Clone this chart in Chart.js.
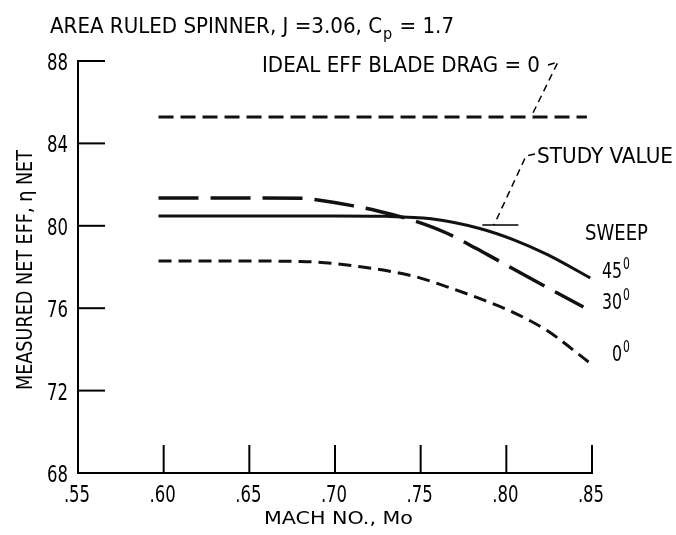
<!DOCTYPE html>
<html>
<head>
  <title>Net efficiency vs Mach number</title>
  <style>
    body { margin: 0; background: #fff; }
    #wrap { width: 676px; height: 535px; }
  </style>
</head>
<body>
  <div id="wrap"><canvas id="chart" width="676" height="535"></canvas></div>

  <script src="https://cdn.jsdelivr.net/npm/chart.js"></script>
  <script>
    // axis ticks
    const machTicks = [0.55, 0.60, 0.65, 0.70, 0.75, 0.80, 0.85];
    const machLabels = ['.55', '.60', '.65', '.70', '.75', '.80', '.85'];
    const effTicks = [68, 72, 76, 80, 84, 88];

    // ideal eff, blade drag = 0
    const idealMach = [0.597, 0.847];
    const idealEff = [85.28, 85.28];

    // sweep 45 deg (solid)
    const sweep45Mach = [0.597, 0.65, 0.70, 0.73, 0.756, 0.785, 0.804, 0.824, 0.849];
    const sweep45Eff = [80.48, 80.48, 80.48, 80.46, 80.34, 79.86, 79.33, 78.6, 77.47];

    // sweep 30 deg (long dash)
    const sweep30Mach = [0.597, 0.64, 0.681, 0.69, 0.71, 0.725, 0.746, 0.765, 0.789, 0.814, 0.845];
    const sweep30Eff = [81.35, 81.35, 81.34, 81.25, 80.98, 80.72, 80.25, 79.65, 78.6, 77.45, 76.06];

    // sweep 0 deg (short dash)
    const sweep0Mach = [0.597, 0.64, 0.680, 0.716, 0.746, 0.765, 0.785, 0.804, 0.824, 0.848];
    const sweep0Eff = [78.29, 78.29, 78.27, 78.0, 77.55, 77.05, 76.45, 75.8, 74.9, 73.39];

    const FONT = "'DejaVu Sans Condensed', 'DejaVu Sans', sans-serif";

    function pts(xs, ys) {
      return xs.map((x, i) => ({ x: x, y: ys[i] }));
    }

    function line(label, xs, ys, dash, width) {
      return {
        label: label,
        data: pts(xs, ys),
        borderColor: '#111',
        borderWidth: width,
        borderDash: dash,
        pointRadius: 0,
        fill: false,
        cubicInterpolationMode: 'monotone'
      };
    }

    // squeezed text helpers (the original lettering is very condensed)
    function txt(ctx, s, x, y, size, sx, align) {
      ctx.save();
      ctx.font = size + 'px ' + FONT;
      ctx.translate(x, y);
      ctx.scale(sx, 1);
      ctx.textAlign = align || 'left';
      ctx.fillText(s, 0, 0);
      ctx.restore();
    }
    function fit(ctx, s, left, right, y, size) {
      ctx.font = size + 'px ' + FONT;
      const sx = (right - left) / ctx.measureText(s).width;
      txt(ctx, s, left, y, size, sx, 'left');
      return sx;
    }

    const extras = {
      id: 'extras',
      afterDraw(chart) {
        const ctx = chart.ctx;
        const xs = chart.scales.x, ys = chart.scales.y;
        const area = chart.chartArea;
        ctx.save();
        ctx.strokeStyle = '#000';
        ctx.fillStyle = '#000';
        ctx.textBaseline = 'alphabetic';

        // inward tick marks
        ctx.lineWidth = 2;
        effTicks.forEach(v => {
          if (v === effTicks[0]) return;
          const py = ys.getPixelForValue(v);
          ctx.beginPath(); ctx.moveTo(area.left, py); ctx.lineTo(area.left + 27, py); ctx.stroke();
        });
        machTicks.forEach(v => {
          if (v === machTicks[0]) return;
          const px = xs.getPixelForValue(v);
          ctx.beginPath(); ctx.moveTo(px, area.bottom); ctx.lineTo(px, area.bottom - 28); ctx.stroke();
        });

        // tick labels
        ctx.font = '23px ' + FONT;
        const sxNum = 21 / ctx.measureText('88').width;
        effTicks.forEach(v => {
          const py = ys.getPixelForValue(v);
          txt(ctx, String(v), area.left - 10, py + 9, 23, sxNum, 'right');
        });
        machTicks.forEach((v, i) => {
          const px = xs.getPixelForValue(v);
          txt(ctx, machLabels[i], px - 1, area.bottom + 29, 23, sxNum, 'center');
        });

        // ideal annotation (its squeeze is reused for the other lettering)
        const sxL = fit(ctx, 'IDEAL EFF BLADE DRAG = 0', 262, 540, 72, 22);
        ctx.lineWidth = 1.5;
        ctx.setLineDash([7, 5]);
        const idealY = ys.getPixelForValue(idealEff[0]);
        ctx.beginPath();
        ctx.moveTo(548, 65); ctx.lineTo(558, 62); ctx.lineTo(531, idealY);
        ctx.stroke();

        // title with subscript p
        const t1 = 'AREA RULED SPINNER, J =3.06, C', t2 = 'p', t3 = ' = 1.7';
        ctx.font = '22px ' + FONT;
        const w1 = ctx.measureText(t1).width;
        ctx.font = '16px ' + FONT;
        const w2 = ctx.measureText(t2).width;
        txt(ctx, t1, 50, 33, 22, sxL);
        txt(ctx, t2, 50 + (w1 + 1) * sxL, 39, 16, sxL);
        txt(ctx, t3, 50 + (w1 + w2 + 2) * sxL, 33, 22, sxL);

        // study value annotation
        const studyY = ys.getPixelForValue(80.04);
        ctx.setLineDash([7, 5]);
        ctx.beginPath();
        ctx.moveTo(535, 154); ctx.lineTo(526, 156); ctx.lineTo(494, studyY);
        ctx.stroke();
        ctx.setLineDash([]);
        ctx.beginPath();
        ctx.moveTo(xs.getPixelForValue(0.786), studyY);
        ctx.lineTo(xs.getPixelForValue(0.807), studyY);
        ctx.stroke();
        fit(ctx, 'STUDY VALUE', 537, 673, 163, 22);

        // sweep labels
        fit(ctx, 'SWEEP', 585, 648, 240, 22);
        function deg(s, x, y) {
          ctx.font = '22px ' + FONT;
          const tw = ctx.measureText(s).width * sxNum;
          txt(ctx, s, x, y, 22, sxNum);
          txt(ctx, '0', x + tw + 1, y - 9, 15, sxNum);
        }
        deg('45', 602, 278);
        deg('30', 602, 309);
        deg('0', 612, 361);

        // axis titles
        fit(ctx, 'MACH NO., Mo', 264, 413, 524, 18);
        ctx.save();
        ctx.translate(32, 390);
        ctx.rotate(-Math.PI / 2);
        fit(ctx, 'MEASURED NET EFF, \u03b7 NET', 0, 240, 0, 22);
        ctx.restore();

        ctx.restore();
      }
    };

    new Chart(document.getElementById('chart'), {
      type: 'line',
      data: {
        datasets: [
          line('Ideal eff blade drag = 0', idealMach, idealEff, [15, 7], 3),
          line('Sweep 45', sweep45Mach, sweep45Eff, [], 3),
          line('Sweep 30', sweep30Mach, sweep30Eff, [40, 12], 3.5),
          line('Sweep 0', sweep0Mach, sweep0Eff, [13, 7], 3)
        ]
      },
      options: {
        responsive: false,
        devicePixelRatio: 1,
        animation: false,
        layout: { padding: { top: 61, right: 84, left: 0, bottom: 0 } },
        plugins: { legend: { display: false }, tooltip: { enabled: false } },
        scales: {
          x: {
            type: 'linear',
            min: 0.55,
            max: 0.85,
            afterFit: s => { s.height = 62; },
            afterBuildTicks: s => { s.ticks = machTicks.map(v => ({ value: v })); },
            grid: { display: false },
            border: { display: true, color: '#000', width: 2 },
            ticks: { display: false }
          },
          y: {
            min: 68,
            max: 88,
            afterFit: s => { s.width = 78; },
            afterBuildTicks: s => { s.ticks = effTicks.map(v => ({ value: v })); },
            grid: { display: false },
            border: { display: true, color: '#000', width: 2 },
            ticks: { display: false }
          }
        }
      },
      plugins: [extras]
    });
  </script>
</body>
</html>
